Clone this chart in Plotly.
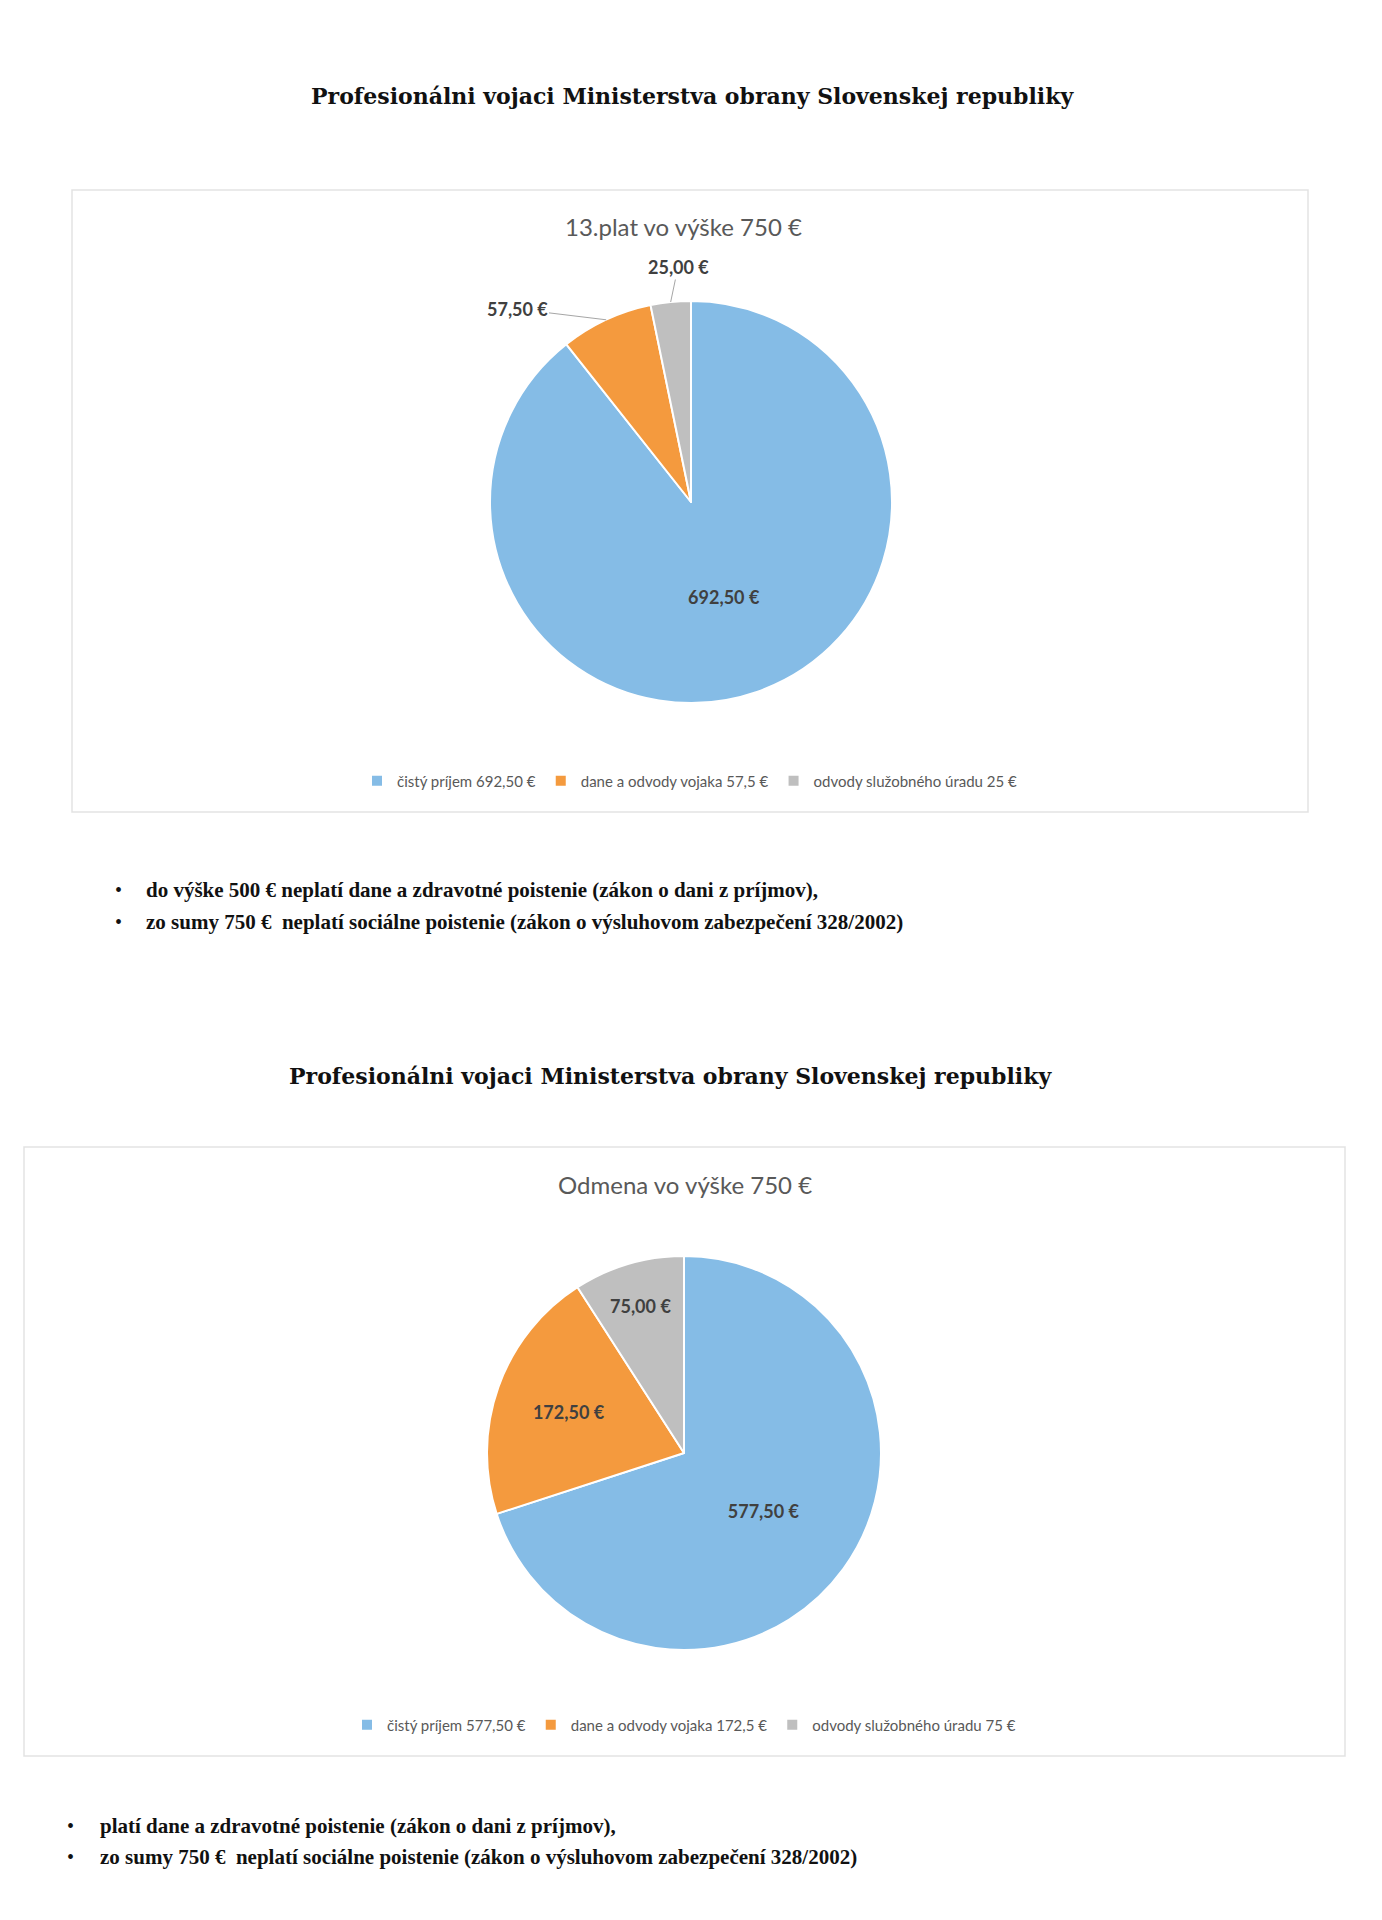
import math
import plotly.graph_objects as go

# data
legend_1 = ["čistý príjem 692,50 €", "dane a odvody vojaka 57,5 €", "odvody služobného úradu 25 €"]
values_1 = [692.5, 57.5, 25.0]
legend_2 = ["čistý príjem 577,50 €", "dane a odvody vojaka 172,5 €", "odvody služobného úradu 75 €"]
values_2 = [577.5, 172.5, 75.0]

heading = "Profesionálni vojaci Ministerstva obrany Slovenskej republiky"
chart_title_1 = "13.plat vo výške 750 €"
chart_title_2 = "Odmena vo výške 750 €"
notes_1 = ["do výške 500 € neplatí dane a zdravotné poistenie (zákon o dani z príjmov),",
           "zo sumy 750 €  neplatí sociálne poistenie (zákon o výsluhovom zabezpečení 328/2002)"]
notes_2 = ["platí dane a zdravotné poistenie (zákon o dani z príjmov),",
           "zo sumy 750 €  neplatí sociálne poistenie (zákon o výsluhovom zabezpečení 328/2002)"]

colors = ["#85BCE6", "#F49A3E", "#BFBFBF"]

W, H = 1366, 1904
OFF = 8  # body margin of the page


def px(x):
    return (x - OFF) / W


def py(y):
    return 1 - (y - OFF) / H


def euro(v):
    return f"{v:.2f}".replace(".", ",") + " €"


label_font = dict(family="Lato", size=18, color="#404040", weight="bold")

# pie geometry (page pixels)
cx1, cy1, r1 = 691, 502, 201
cx2, cy2, r2 = 684, 1453, 197

fig = go.Figure()

fig.add_trace(go.Pie(
    labels=legend_1, values=values_1, sort=False, direction="clockwise", rotation=0,
    marker=dict(colors=colors, line=dict(color="white", width=2)),
    texttemplate="%{value:.2f} €", textposition=["inside", "none", "none"],
    insidetextorientation="horizontal", textfont=label_font,
    domain=dict(x=[px(cx1 - r1), px(cx1 + r1)], y=[py(cy1 + r1), py(cy1 - r1)]),
    legend="legend", hoverinfo="label+value",
))

fig.add_trace(go.Pie(
    labels=legend_2, values=values_2, sort=False, direction="clockwise", rotation=0,
    marker=dict(colors=colors, line=dict(color="white", width=2)),
    texttemplate="%{value:.2f} €", textposition="inside",
    insidetextorientation="horizontal", textfont=label_font,
    domain=dict(x=[px(cx2 - r2), px(cx2 + r2)], y=[py(cy2 + r2), py(cy2 - r2)]),
    legend="legend2", hoverinfo="label+value",
))

# chart frames
for x0, x1, y0, y1 in [(72, 1308, 190, 812), (24, 1345, 1147, 1756)]:
    fig.add_shape(type="rect", xref="paper", yref="paper",
                  x0=px(x0), x1=px(x1), y0=py(y1), y1=py(y0),
                  line=dict(color="#E3E3E3", width=1.5), layer="below")

ann = []

# outside labels with leader lines for the small slices of pie 1
total = sum(values_1)
label_pos = {1: (517, 309), 2: (678, 267)}
cum = 0
for i, v in enumerate(values_1):
    mid = (cum + v / 2) / total * 2 * math.pi
    cum += v
    if i not in label_pos:
        continue
    ex = cx1 + r1 * math.sin(mid)
    ey = cy1 - r1 * math.cos(mid)
    lx, ly = label_pos[i]
    ann.append(dict(text=euro(v), x=px(ex), y=py(ey), ax=lx - ex, ay=ly - ey,
                    showarrow=True, arrowhead=0, arrowwidth=1, arrowcolor="#A6A6A6",
                    font=label_font))

for y, xc in [(96, 692), (1076, 670)]:
    ann.append(dict(text=heading, x=px(xc), y=py(y), xanchor="center", yanchor="middle",
                    font=dict(family="DejaVu Serif", size=22, color="#111111", weight="bold")))
for txt, y, xc in [(chart_title_1, 226, 683), (chart_title_2, 1184, 685)]:
    ann.append(dict(text=txt, x=px(xc), y=py(y), xanchor="center", yanchor="middle",
                    font=dict(family="Lato", size=24, color="#595959")))
for notes, ys, xb, xt in [(notes_1, (890, 922), 118, 144), (notes_2, (1826, 1857), 70, 98)]:
    for txt, y in zip(notes, ys):
        ann.append(dict(text="•", x=px(xb), y=py(y), xanchor="center", yanchor="middle",
                        font=dict(family="Liberation Serif", size=20, color="#111111")))
        ann.append(dict(text=txt, x=px(xt), y=py(y), xanchor="left", yanchor="middle",
                        font=dict(family="Liberation Serif", size=21, color="#111111", weight="bold")))
for a in ann:
    a.update(xref="paper", yref="paper")
    a.setdefault("showarrow", False)

legend_style = dict(orientation="h", xanchor="center", yanchor="middle",
                    font=dict(family="Lato", size=15, color="#595959"),
                    bgcolor="rgba(0,0,0,0)", itemwidth=30)

fig.update_layout(
    width=W, height=H, margin=dict(l=0, r=0, t=0, b=0),
    paper_bgcolor="white", plot_bgcolor="white",
    separators=", ",
    annotations=ann,
    legend=dict(legend_style, x=px(690), y=py(781)),
    legend2=dict(legend_style, x=px(684), y=py(1725)),
)

fig.write_html("out.html")
